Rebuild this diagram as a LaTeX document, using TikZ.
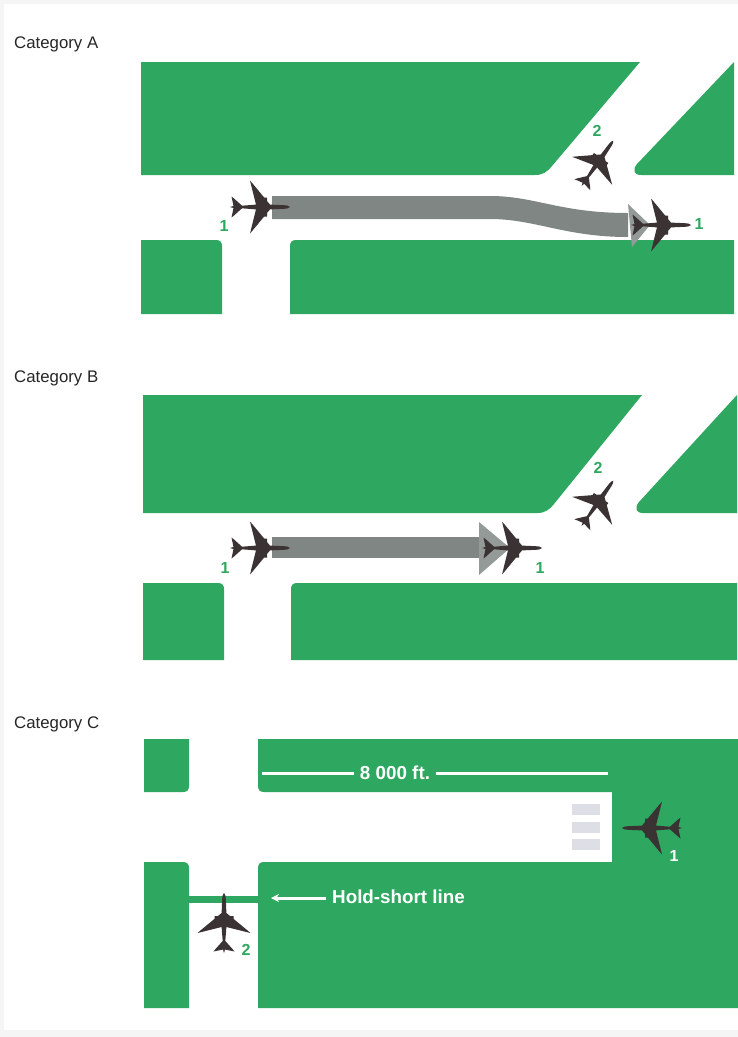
\documentclass[tikz,border=0pt]{standalone}
\usepackage{fontspec}
\setmainfont{Liberation Sans}
\usepackage{tikz}
\usetikzlibrary{arrows.meta,positioning}
\definecolor{grass}{HTML}{2EA860}
\definecolor{jetdark}{HTML}{3B3234}
\definecolor{trackgray}{HTML}{7F8684}
\definecolor{headgray}{HTML}{949A98}
\definecolor{barsgray}{HTML}{DEDEE6}
\tikzset{
 zone/.style={fill=grass,draw=none},
 catlabel/.style={anchor=west,inner sep=0pt,font=\fontsize{16.8}{18}\selectfont,text=black!85},
 numlabel/.style={inner sep=0pt,font=\fontsize{16}{18}\selectfont\bfseries,text=#1},
 runwaylabel/.style={inner sep=0pt,font=\fontsize{18.8}{20}\selectfont\bfseries,text=white},
 whiteline/.style={draw=white,line width=3pt},
 jet/.pic={
  \fill[jetdark] (27,0) .. controls (25,1.4) .. (21,1.8) -- (7,2.4) -- (-10,23) -- (-13,26.5) -- (-7,2.4)
   -- (-21,1.3) -- (-29,8.5) -- (-31.5,10.5) -- (-29.5,1) -- (-33,0) -- (-29.5,-1) -- (-31.5,-10.5) -- (-29,-8.5) -- (-21,-1.3)
   -- (-7,-2.4) -- (-13,-26.5) -- (-10,-23) -- (7,-2.4) -- (21,-1.8) .. controls (25,-1.4) .. (27,0) -- cycle;
  \fill[jetdark] (-2,6) rectangle (4,9.5) (-2,-6) rectangle (4,-9.5);
 }
}
\begin{document}
\begin{tikzpicture}[x=1pt,y=-1pt]
 \useasboundingbox (0,0) rectangle (738,1037);
 \fill[black!4] (0,0) rectangle (738,1037);
 \fill[white] (4,4) rectangle (738,1030);

 % Category A
 \node[catlabel] (catA) at (14,44) {Category A};
 \fill[zone] (141,62) -- (640,62) -- (552,166) .. controls (547,172) and (543,175) .. (535,175) -- (141,175) -- cycle;
 \fill[zone] (734,62) -- (734,175) -- (641,175) .. controls (634,175) and (632,170) .. (637,164) -- cycle;
 \fill[zone] (141,240) -- (216,240) .. controls (220,240) and (222,242) .. (222,246) -- (222,314) -- (141,314) -- cycle;
 \fill[zone] (296,240) -- (734,240) -- (734,314) -- (290,314) -- (290,246) .. controls (290,242) and (292,240) .. (296,240) -- cycle;
 \fill[trackgray] (272,196) -- (490,196) .. controls (535,196) and (560,213) .. (628,213)
   -- (628,237) .. controls (565,237) and (535,219) .. (490,219) -- (272,219) -- cycle;
 \fill[headgray] (628,204) -- (650,225) -- (632,247) -- cycle;
 \pic (jetAa) at (263,207) {jet};
 \pic (jetAb) at (664,225) {jet};
 \pic[rotate=55,scale=0.92] (jetAc) at (599,161) {jet};
 \node[numlabel=grass] (numAa) at (224,226) {1};
 \node[numlabel=grass] (numAb) at (699,224) {1};
 \node[numlabel=grass] (numAc) at (597,131) {2};

 % Category B
 \node[catlabel] (catB) at (14,378) {Category B};
 \fill[zone] (143,395) -- (642,395) -- (554,504) .. controls (549,510) and (545,513) .. (537,513) -- (143,513) -- cycle;
 \fill[zone] (737,395) -- (737,513) -- (643,513) .. controls (636,513) and (634,508) .. (639,502) -- cycle;
 \fill[zone] (143,583) -- (218,583) .. controls (222,583) and (224,585) .. (224,589) -- (224,660) -- (143,660) -- cycle;
 \fill[zone] (297,583) -- (737,583) -- (737,660) -- (291,660) -- (291,589) .. controls (291,585) and (293,583) .. (297,583) -- cycle;
 \fill[trackgray] (272,537) rectangle (482,558);
 \fill[headgray] (479,522) -- (510,548) -- (479,575) -- cycle;
 \pic (jetBa) at (263,548) {jet};
 \pic (jetBb) at (515,548) {jet};
 \pic[rotate=55,scale=0.92] (jetBc) at (599,501) {jet};
 \node[numlabel=grass] (numBa) at (225,568) {1};
 \node[numlabel=grass] (numBb) at (540,568) {1};
 \node[numlabel=grass] (numBc) at (598,468) {2};

 % Category C
 \node[catlabel] (catC) at (14,724) {Category C};
 \fill[zone] (144,739) -- (189,739) -- (189,786) .. controls (189,790) and (187,792) .. (183,792) -- (144,792) -- cycle;
 \fill[zone] (258,739) -- (738,739) -- (738,1008) -- (258,1008) -- (258,868) .. controls (258,864) and (260,862) .. (264,862)
   -- (612,862) -- (612,792) -- (264,792) .. controls (260,792) and (258,790) .. (258,786) -- cycle;
 \fill[zone] (144,862) -- (183,862) .. controls (187,862) and (189,864) .. (189,868) -- (189,1008) -- (144,1008) -- cycle;
 \fill[zone] (189,896) rectangle (258,903);
 \foreach \y in {804,822,839}
   \fill[barsgray] (572,\y) rectangle (600,\y+11);
 \node[runwaylabel,inner xsep=6pt] (ftlabel) at (395,773) {8 000 ft.};
 \coordinate (ftleft) at (262,773);
 \coordinate (ftright) at (608,773);
 \draw[whiteline] (ftlabel) -- (ftleft) (ftlabel) -- (ftright);
 \node[runwaylabel,anchor=west,inner xsep=6pt] (holdlabel) at (326,897) {Hold-short line};
 \coordinate (holdend) at (271,898);
 \draw[whiteline,-{Stealth[length=8pt,width=8pt]}] (holdlabel.west |- holdend) -- (holdend);
 \pic[rotate=180] (jetCa) at (649,828) {jet};
 \pic[rotate=90] (jetCb) at (224,920) {jet};
 \node[numlabel=white] (numCa) at (674,856) {1};
 \node[numlabel=grass] (numCb) at (246,950) {2};
\end{tikzpicture}
\end{document}
